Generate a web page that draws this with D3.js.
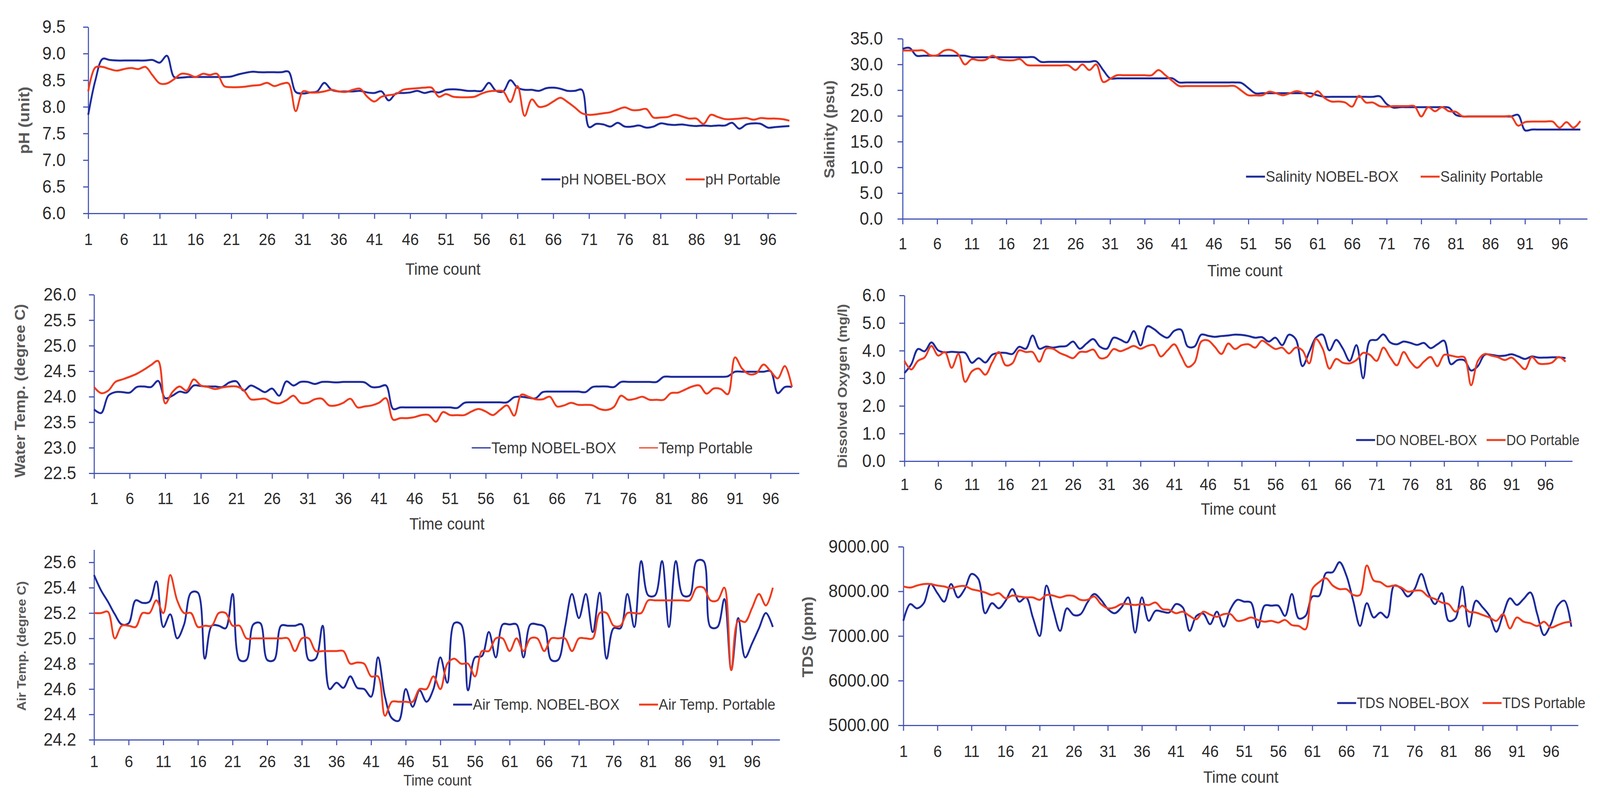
<!DOCTYPE html>
<html><head><meta charset="utf-8">
<script src="https://cdn.jsdelivr.net/npm/d3@7"></script>
<style>html,body{margin:0;padding:0;background:#fff;overflow:hidden;width:100%;height:100%;} svg{display:block;width:100vw;height:100vh;}</style>
</head><body>
<svg id="chart" viewBox="0 0 4389 2042" preserveAspectRatio="none"></svg>
<script>
// ---------- DATA ----------
const timeCount = d3.range(1, 100); // categories 1..99
const xTickLabels = [1,6,11,16,21,26,31,36,41,46,51,56,61,66,71,76,81,86,91,96];

const phNobel = [7.85,8.5,8.9,8.88,8.87,8.87,8.87,8.87,8.87,8.88,
8.83,8.96,8.56,8.55,8.56,8.56,8.56,8.56,8.56,8.56,
8.57,8.61,8.64,8.66,8.65,8.65,8.65,8.65,8.66,8.28,
8.25,8.27,8.29,8.45,8.32,8.29,8.29,8.29,8.3,8.27,
8.26,8.29,8.12,8.25,8.26,8.27,8.3,8.26,8.29,8.27,
8.32,8.33,8.32,8.3,8.3,8.3,8.45,8.3,8.29,8.5,
8.36,8.32,8.32,8.3,8.35,8.36,8.34,8.3,8.3,8.32,
7.62,7.68,7.67,7.63,7.7,7.63,7.63,7.65,7.61,7.63,
7.69,7.67,7.66,7.67,7.65,7.64,7.65,7.64,7.65,7.65,
7.7,7.59,7.67,7.69,7.68,7.61,7.62,7.63,7.64];
const phPortable = [8.29,8.74,8.75,8.71,8.68,8.71,8.73,8.71,8.75,8.59,
8.44,8.44,8.52,8.62,8.61,8.56,8.62,8.6,8.62,8.39,
8.37,8.37,8.38,8.4,8.41,8.45,8.39,8.43,8.44,7.92,
8.29,8.27,8.27,8.29,8.32,8.29,8.28,8.32,8.34,8.19,
8.1,8.19,8.22,8.24,8.32,8.34,8.35,8.36,8.36,8.19,
8.24,8.19,8.18,8.18,8.19,8.25,8.29,8.3,8.29,8.09,
8.39,7.83,8.14,8.0,8.02,8.1,8.17,8.09,7.99,7.88,
7.85,7.86,7.88,7.9,7.95,7.99,7.94,7.94,7.96,7.8,
7.8,7.81,7.85,7.82,7.78,7.78,7.68,7.85,7.81,7.77,
7.77,7.78,7.79,7.76,7.79,7.78,7.78,7.77,7.74];

const salNobel = [33.0,33.2,31.7,31.7,31.7,31.7,31.7,31.7,31.7,31.7,
31.4,31.4,31.4,31.4,31.4,31.4,31.4,31.4,31.4,31.4,
30.5,30.5,30.5,30.5,30.5,30.5,30.5,30.5,30.6,28.9,
27.3,27.3,27.3,27.3,27.3,27.3,27.3,27.3,27.3,27.3,
26.5,26.5,26.5,26.5,26.5,26.5,26.5,26.5,26.5,26.4,
25.4,24.4,24.4,24.4,24.4,24.4,24.4,24.4,24.4,24.4,
24.0,23.7,23.7,23.7,23.7,23.7,23.7,23.7,23.7,23.8,
22.3,21.6,21.7,21.7,21.7,21.7,21.7,21.7,21.7,21.6,
20.2,19.9,19.9,19.9,19.9,19.9,19.9,19.9,19.9,20.2,
17.2,17.35,17.35,17.35,17.35,17.35,17.35,17.35,17.35];
const salPortable = [32.7,32.7,32.7,32.7,31.8,31.8,32.7,32.8,32.0,30.0,
31.0,30.8,30.9,31.7,31.0,30.8,30.8,31.0,29.9,29.8,
29.8,29.8,29.8,29.8,29.8,28.9,30.0,28.9,30.0,26.6,
27.2,27.9,27.9,27.9,27.9,27.9,27.9,28.9,27.9,26.8,
25.8,25.8,25.8,25.8,25.8,25.8,25.8,25.8,25.8,24.9,
24.0,24.0,24.0,24.7,24.4,24.0,24.4,24.8,24.4,23.7,
24.8,23.5,22.8,22.8,22.6,21.8,23.9,22.6,22.6,21.9,
21.8,21.9,21.9,21.9,21.9,19.9,21.7,20.9,21.7,20.9,
20.8,19.9,19.9,19.9,19.9,19.9,19.9,19.9,19.9,18.1,
18.8,18.9,18.9,18.9,18.9,17.7,18.8,17.7,19.0];

const wtNobel = [23.75,23.68,24.02,24.09,24.09,24.08,24.19,24.2,24.19,24.31,
23.97,24.02,24.1,24.08,24.22,24.21,24.2,24.2,24.19,24.28,
24.3,24.12,24.22,24.16,24.09,24.16,24.02,24.3,24.22,24.29,
24.29,24.25,24.29,24.29,24.28,24.29,24.29,24.29,24.28,24.19,
24.19,24.22,23.76,23.79,23.79,23.79,23.79,23.79,23.79,23.79,
23.79,23.78,23.88,23.89,23.89,23.89,23.89,23.89,23.89,23.99,
24.0,23.98,23.97,24.09,24.1,24.1,24.1,24.1,24.1,24.09,
24.19,24.2,24.2,24.19,24.29,24.29,24.29,24.29,24.29,24.29,
24.39,24.39,24.39,24.39,24.39,24.39,24.39,24.39,24.39,24.4,
24.49,24.49,24.49,24.49,24.49,24.5,24.07,24.19,24.19];
const wtPortable = [24.19,24.07,24.12,24.29,24.34,24.39,24.45,24.53,24.62,24.7,
23.87,24.09,24.2,24.12,24.34,24.22,24.19,24.15,24.18,24.2,
24.2,24.13,23.95,23.95,23.96,23.89,23.87,23.93,24.02,23.88,
23.88,23.95,23.96,23.83,23.83,23.88,23.96,23.79,23.81,23.83,
23.88,23.97,23.55,23.58,23.58,23.6,23.64,23.64,23.51,23.7,
23.64,23.64,23.64,23.71,23.76,23.71,23.64,23.74,23.83,23.63,
24.04,24.0,23.95,23.95,24.0,23.81,23.83,23.88,23.84,23.84,
23.83,23.76,23.74,23.8,24.02,23.94,23.96,24.0,23.94,23.94,
23.94,24.07,24.08,24.14,24.2,24.22,24.06,24.16,24.15,24.05,
24.77,24.55,24.44,24.46,24.63,24.5,24.36,24.6,24.19];

const doNobel = [3.19,3.5,4.06,3.98,4.3,4.01,3.94,3.96,3.94,3.92,
3.56,3.73,3.57,3.85,3.92,3.92,3.88,4.14,4.07,4.55,
4.07,4.15,4.11,4.15,4.17,4.33,4.07,4.26,4.42,4.14,
4.07,4.47,4.4,4.3,4.71,4.19,4.88,4.78,4.58,4.47,
4.72,4.76,4.15,4.15,4.58,4.54,4.5,4.53,4.55,4.58,
4.57,4.53,4.47,4.49,4.33,4.47,4.2,4.58,4.42,3.44,
3.95,4.47,4.58,4.01,4.39,4.07,3.63,4.2,3.0,4.36,
4.39,4.59,4.3,4.23,4.33,4.28,4.21,4.28,4.09,4.23,
4.36,3.51,3.66,3.65,3.28,3.44,3.85,3.85,3.81,3.82,
3.87,3.79,3.7,3.79,3.75,3.75,3.76,3.76,3.73];
const doPortable = [3.63,3.32,3.63,3.76,4.17,3.82,3.95,3.38,3.88,2.87,
3.25,3.35,3.13,3.57,3.95,3.47,3.54,4.01,3.95,3.95,
3.6,4.07,4.07,3.92,3.82,3.73,3.95,3.96,4.04,3.73,
3.77,4.06,3.98,4.07,4.17,4.07,4.17,4.2,3.79,4.01,
4.23,3.82,3.41,3.57,4.33,4.37,4.14,3.88,4.26,4.06,
4.2,4.23,4.11,4.36,4.21,4.06,4.11,3.9,4.11,4.01,
3.54,4.42,4.07,3.35,3.7,3.56,3.54,3.66,3.92,3.85,
3.63,4.11,3.76,3.47,3.95,3.6,3.38,3.6,3.77,3.44,
3.85,3.82,3.77,3.76,2.75,3.63,3.88,3.82,3.76,3.66,
3.75,3.54,3.33,3.77,3.54,3.52,3.57,3.77,3.6];

const airNobel = [25.5,25.38,25.29,25.19,25.11,25.12,25.3,25.28,25.29,25.45,
25.09,25.19,25.0,25.11,25.36,25.36,24.84,25.1,25.1,25.08,
25.35,24.83,24.83,25.11,25.12,24.83,24.83,25.1,25.1,25.1,
25.11,24.83,24.84,25.1,24.6,24.65,24.61,24.7,24.61,24.6,
24.54,24.85,24.54,24.37,24.35,24.6,24.46,24.59,24.5,24.6,
24.85,24.65,25.12,25.11,24.59,24.85,24.86,25.05,24.85,25.11,
25.11,25.11,24.85,25.11,25.11,25.09,24.83,24.83,25.09,25.35,
25.16,25.35,25.05,25.36,24.84,25.08,25.08,25.35,25.09,25.61,
25.34,25.34,25.61,25.09,25.61,25.34,25.34,25.61,25.61,25.09,
25.09,25.31,24.75,25.16,24.85,24.96,25.08,25.2,25.09];
const airPortable = [25.2,25.2,25.21,25.0,25.1,25.1,25.09,25.2,25.2,25.3,
25.2,25.5,25.3,25.2,25.2,25.09,25.1,25.1,25.2,25.2,
25.1,25.1,25.0,25.0,25.0,25.0,25.0,25.0,25.0,24.9,
25.0,25.0,24.9,24.9,24.9,24.9,24.9,24.8,24.81,24.8,
24.7,24.7,24.39,24.5,24.5,24.5,24.5,24.6,24.6,24.7,
24.6,24.8,24.84,24.8,24.8,24.7,24.9,24.9,25.0,25.0,
24.9,25.0,24.9,25.0,25.0,24.9,25.0,25.0,25.0,24.9,
25.0,25.0,25.0,25.2,25.2,25.1,25.1,25.2,25.2,25.2,
25.3,25.3,25.3,25.3,25.3,25.3,25.3,25.4,25.4,25.3,
25.3,25.4,24.75,25.14,25.13,25.24,25.35,25.26,25.4];

const tdsNobel = [7340,7715,7620,7735,8165,7960,7770,8165,7865,8050,
8390,8280,7510,7735,7620,7790,8050,7770,7865,7415,
7000,8130,7585,7115,7620,7470,7490,7750,7940,7810,
7605,7510,7640,7865,7075,7865,7340,7565,7545,7525,
7715,7640,7115,7450,7500,7265,7545,7210,7605,7810,
7770,7750,7190,7680,7680,7680,7450,7940,7395,7450,
7885,7900,8410,8430,8655,8355,7790,7225,7735,7415,
7525,7415,8130,8070,7885,8050,8390,7975,7715,7960,
7340,7395,8110,7210,7790,7640,7450,7095,7490,7845,
7695,7830,7975,7490,7020,7265,7680,7790,7210];
const tdsPortable = [8110,8085,8130,8165,8165,8130,8110,8070,8110,8120,
8050,8015,7975,7920,7960,7845,7905,7885,7865,7865,
7810,7920,7905,7865,7905,7895,7810,7810,7885,7715,
7620,7640,7715,7715,7695,7715,7695,7750,7605,7585,
7510,7545,7450,7375,7545,7480,7430,7490,7490,7340,
7360,7415,7360,7320,7340,7300,7360,7245,7225,7150,
8050,8205,8295,8130,8050,8050,7920,7920,8580,8245,
8205,8110,8130,8090,7995,8015,8015,7885,7830,7750,
7715,7545,7680,7545,7525,7470,7415,7340,7490,7170,
7415,7320,7285,7225,7320,7190,7245,7300,7320];

const phTicks  = [6.0,6.5,7.0,7.5,8.0,8.5,9.0,9.5];
const salTicks = [0,5,10,15,20,25,30,35];
const wtTicks  = [22.5,23.0,23.5,24.0,24.5,25.0,25.5,26.0];
const doTicks  = [0,1,2,3,4,5,6];
const airTicks = [24.2,24.4,24.6,24.8,25.0,25.2,25.4,25.6];
const tdsTicks = [5000,6000,7000,8000,9000];

// ---------- STYLE / LAYOUT ----------
const BLUE = "#1d2b9c", RED = "#f03c1e", AXIS = "#4354b4";
const FONT = "'Liberation Sans', Arial, sans-serif";
const panels = [
 {yTitle:"pH (unit)", leg:["pH NOBEL-BOX","pH Portable"], a:phNobel, b:phPortable, dom:[6,9.5], ticks:phTicks, fmt:".1f",
  x0:242, x1:2185, yTop:69, yBot:546, yPad:48, xPad:37, tX:66, tY:308, tS:42, tcX:1215, tcY:689, tcS:42, legY:459, l1:1485, l2:1881, lw:5, lf:39},
 {yTitle:"Salinity (psu)", leg:["Salinity NOBEL-BOX","Salinity Portable"], a:salNobel, b:salPortable, dom:[0,35], ticks:salTicks, fmt:".1f",
  x0:2476, x1:4354, yTop:99, yBot:560, yPad:40, xPad:34, tX:2275, tY:331, tS:40, tcX:3415, tcY:693, tcS:42, legY:452, l1:3418, l2:3897, lw:5, lf:39},
 {yTitle:"Water Temp. (degree C)", leg:["Temp NOBEL-BOX","Temp Portable"], a:wtNobel, b:wtPortable, dom:[22.5,26], ticks:wtTicks, fmt:".1f",
  x0:258, x1:2192, yTop:754, yBot:1211, yPad:35, xPad:35, tX:55, tY:1000, tS:40, tcX:1226, tcY:1341, tcS:42, legY:1146, l1:1294, l2:1753, lw:3, lf:40},
 {yTitle:"Dissolved Oxygen (mg/l)", leg:["DO NOBEL-BOX","DO Portable"], a:doNobel, b:doPortable, dom:[0,6], ticks:doTicks, fmt:".1f",
  x0:2481, x1:4313, yTop:756, yBot:1180, yPad:38, xPad:30, tX:2310, tY:988, tS:36, tcX:3397, tcY:1303, tcS:42, legY:1126, l1:3720, l2:4078, lw:5, lf:36.5},
 {yTitle:"Air Temp. (degree C)", leg:["Air Temp. NOBEL-BOX","Air Temp. Portable"], a:airNobel, b:airPortable, dom:[24.2,25.7], ticks:airTicks, fmt:".1f",
  x0:258, x1:2139, yTop:1406.6, yBot:1893, yPad:35, xPad:26, tX:59, tY:1653, tS:34, tcX:1200, tcY:1997, tcS:38, legY:1803, l1:1243, l2:1753, lw:5, lf:39, clip:2152},
 {yTitle:"TDS (ppm)", leg:["TDS NOBEL-BOX","TDS Portable"], a:tdsNobel, b:tdsPortable, dom:[5000,9000], ticks:tdsTicks, fmt:".2f",
  x0:2478, x1:4329, yTop:1399, yBot:1856, yPad:25, xPad:37, tX:2215, tY:1630, tS:41, tcX:3404, tcY:1989, tcS:42, legY:1799, l1:3668, l2:4067, lw:5, lf:38}
];

const svg = d3.select("#chart");
svg.append("rect").attr("width",4389).attr("height",2042).attr("fill","#fff");
const defs = svg.append("defs");

panels.forEach((p, pi) => {
  const g = svg.append("g");
  const x = d3.scaleLinear().domain([1,100]).range([p.x0, p.x1]);
  const y = d3.scaleLinear().domain(p.dom).range([p.yBot, p.yTop]);

  const ya = g.append("g").attr("transform", `translate(${p.x0},0)`)
    .call(d3.axisLeft(y).tickValues(p.ticks).tickFormat(d3.format(p.fmt)).tickSize(14).tickSizeOuter(0).tickPadding(p.yPad));
  ya.select(".domain").attr("stroke", AXIS).attr("stroke-width", 3);
  ya.selectAll(".tick line").attr("stroke", AXIS).attr("stroke-width", 3);
  ya.selectAll(".tick text").attr("font-family",FONT).attr("font-size",46).attr("fill","#2b2b2b");

  const line = d3.line().x((d,i)=>x(timeCount[i])).y(d=>y(d)).curve(d3.curveCatmullRom.alpha(0.5));
  g.append("path").datum(p.a).attr("d", line).attr("fill","none").attr("stroke",BLUE).attr("stroke-width",5).attr("stroke-linejoin","round");
  g.append("path").datum(p.b).attr("d", line).attr("fill","none").attr("stroke",RED).attr("stroke-width",5).attr("stroke-linejoin","round");

  const xa = g.append("g").attr("transform", `translate(0,${p.yBot})`)
    .call(d3.axisBottom(x).tickValues(xTickLabels).tickFormat(d3.format("d")).tickSize(14).tickSizeOuter(0).tickPadding(p.xPad));
  xa.select(".domain").attr("stroke", AXIS).attr("stroke-width", 3);
  xa.selectAll(".tick line").attr("stroke", AXIS).attr("stroke-width", 3);
  xa.selectAll(".tick text").attr("font-family",FONT).attr("font-size",42).attr("fill","#2b2b2b");

  g.append("text").attr("transform", `translate(${p.tX},${p.tY}) rotate(-90)`)
    .attr("text-anchor","middle").attr("dominant-baseline","central")
    .attr("font-family",FONT).attr("font-weight","bold")
    .attr("font-size", p.tS).attr("fill","#595959").text(p.yTitle);

  g.append("text").attr("x", p.tcX).attr("y", p.tcY).attr("text-anchor","middle").attr("dominant-baseline","central")
    .attr("font-family",FONT).attr("font-size",p.tcS).attr("fill","#3a3a3a").text("Time count");

  const lg = g.append("g");
  if (p.clip) {
    defs.append("clipPath").attr("id","clip"+pi).append("rect").attr("x",0).attr("y",0).attr("width",p.clip).attr("height",2042);
    lg.attr("clip-path", `url(#clip${pi})`);
  }
  [[p.l1, BLUE, p.leg[0]], [p.l2, RED, p.leg[1]]].forEach(([lx, col, txt]) => {
    lg.append("line").attr("x1", lx).attr("x2", lx+52).attr("y1", p.legY).attr("y2", p.legY)
      .attr("stroke", col).attr("stroke-width", p.lw);
    lg.append("text").attr("x", lx+54).attr("y", p.legY).attr("dominant-baseline","central")
      .attr("font-family",FONT).attr("font-size",p.lf).attr("fill","#3a3a3a").text(txt);
  });
});
</script>
</body></html>
